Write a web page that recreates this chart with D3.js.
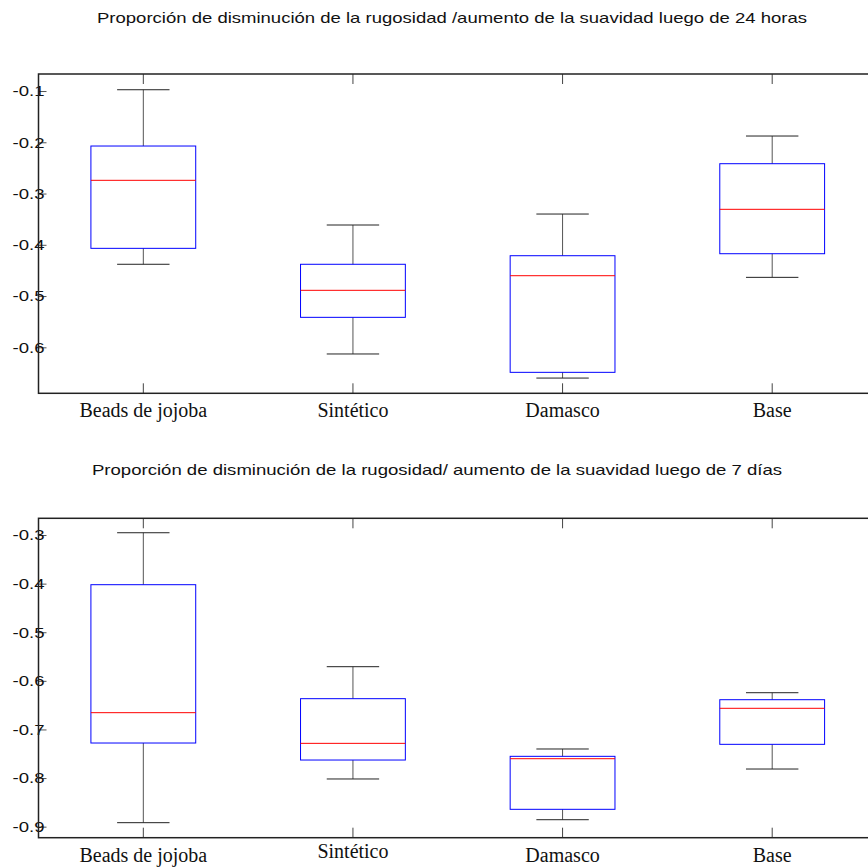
<html lang="es">
  <head>
    <meta charset="utf-8">
    <title>Boxplots rugosidad</title>
    <script src="https://d3js.org/d3.v7.min.js"></script>
    <style>
      body { margin: 0; background: #fff; }
    </style>
  </head>
  <body>
    <script type="text/javascript">
      var w = 868;
      var h = 867;
      var categories = ["Beads de jojoba", "Sintético", "Damasco", "Base"];

      // panel 1: 24 horas
      var title1 = "Proporción de disminución de la rugosidad /aumento de la suavidad  luego de 24 horas";
      var whiskerLow1 = [-0.438, -0.613, -0.660, -0.4635];
      var q1_1 = [-0.4069, -0.5415, -0.6488, -0.4174];
      var median1 = [-0.2742, -0.4888, -0.4603, -0.3308];
      var q3_1 = [-0.2073, -0.438, -0.4213, -0.2418];
      var whiskerHigh1 = [-0.0975, -0.3614, -0.340, -0.1878];
      var ticks1 = [-0.6, -0.5, -0.4, -0.3, -0.2, -0.1];

      // panel 2: 7 dias
      var title2 = "Proporción de disminución de la rugosidad/ aumento de la suavidad luego de 7 días";
      var whiskerLow2 = [-0.8918, -0.8019, -0.8857, -0.7814];
      var q1_2 = [-0.7279, -0.7629, -0.8643, -0.7306];
      var median2 = [-0.6655, -0.7286, -0.7602, -0.6565];
      var q3_2 = [-0.4022, -0.6367, -0.7553, -0.6388];
      var whiskerHigh2 = [-0.2953, -0.5709, -0.7402, -0.6244];
      var ticks2 = [-0.9, -0.8, -0.7, -0.6, -0.5, -0.4, -0.3];

      var svg = d3.select("body")
                  .append("svg")
                  .attr("width", w)
                  .attr("height", h);

      var xScale = d3.scaleBand()
                     .domain(categories)
                     .range([38.5, 877])
                     .padding(0);

      function drawPanel(opts) {
        var top = opts.top, bottom = opts.bottom;
        var yScale = d3.scaleLinear()
                       .domain(opts.domain)
                       .range([bottom, top]);
        var g = svg.append("g");
        var bw = xScale.bandwidth();
        var cx = function (c) { return xScale(c) + bw / 2; };

        // title (text in the original is stretched sideways)
        g.append("text")
         .attr("x", opts.titleX)
         .attr("y", opts.titleY)
         .attr("textLength", opts.titleLen)
         .attr("lengthAdjust", "spacingAndGlyphs")
         .style("font-family", "Liberation Sans, Arial, sans-serif")
         .style("font-size", "15px")
         .style("fill", "#111")
         .text(opts.title);

        var data = categories.map(function (c, i) {
          return {c: c, lo: opts.lo[i], q1: opts.q1[i], med: opts.med[i], q3: opts.q3[i], hi: opts.hi[i]};
        });

        // whiskers
        g.selectAll(".whisk").data(data).enter().append("line")
         .attr("x1", function (d) { return cx(d.c); })
         .attr("x2", function (d) { return cx(d.c); })
         .attr("y1", function (d) { return yScale(d.hi); })
         .attr("y2", function (d) { return yScale(d.q3); })
         .style("stroke", "#555").attr("stroke-width", 1);
        g.selectAll(".whisk2").data(data).enter().append("line")
         .attr("x1", function (d) { return cx(d.c); })
         .attr("x2", function (d) { return cx(d.c); })
         .attr("y1", function (d) { return yScale(d.q1); })
         .attr("y2", function (d) { return yScale(d.lo); })
         .style("stroke", "#555").attr("stroke-width", 1);
        // caps
        ["hi", "lo"].forEach(function (k) {
          g.selectAll(".cap" + k).data(data).enter().append("line")
           .attr("x1", function (d) { return cx(d.c) - bw / 8; })
           .attr("x2", function (d) { return cx(d.c) + bw / 8; })
           .attr("y1", function (d) { return yScale(d[k]); })
           .attr("y2", function (d) { return yScale(d[k]); })
           .style("stroke", "#222").attr("stroke-width", 1);
        });
        // boxes
        g.selectAll("rect.box").data(data).enter().append("rect")
         .attr("x", function (d) { return cx(d.c) - bw / 4; })
         .attr("width", bw / 2)
         .attr("y", function (d) { return yScale(d.q3); })
         .attr("height", function (d) { return yScale(d.q1) - yScale(d.q3); })
         .style("fill", "none")
         .style("stroke", "#0000ff")
         .attr("stroke-width", 1);
        // medians
        g.selectAll(".med").data(data).enter().append("line")
         .attr("x1", function (d) { return cx(d.c) - bw / 4; })
         .attr("x2", function (d) { return cx(d.c) + bw / 4; })
         .attr("y1", function (d) { return yScale(d.med); })
         .attr("y2", function (d) { return yScale(d.med); })
         .style("stroke", "#ff0000").attr("stroke-width", 1);

        // axes
        var yAxis = d3.axisLeft(yScale)
                      .tickValues(opts.ticks)
                      .tickFormat(function (d) { return d.toFixed(1); })
                      .tickSizeInner(-8)
                      .tickSizeOuter(0)
                      .tickPadding(-6);
        var ya = g.append("g")
                  .attr("transform", "translate(38.5,0)")
                  .call(yAxis);
        ya.select(".domain").remove();
        ya.selectAll("line").style("stroke", "#555");
        ya.selectAll("text")
          .attr("textLength", 32)
          .attr("lengthAdjust", "spacingAndGlyphs")
          .style("font-family", "Liberation Sans, Arial, sans-serif")
          .style("font-size", "15px")
          .style("fill", "#111");

        var xAxis = d3.axisBottom(xScale)
                      .tickSizeInner(-10)
                      .tickSizeOuter(0)
                      .tickPadding(10);
        var xa = g.append("g")
                  .attr("transform", "translate(0," + bottom + ")")
                  .call(xAxis);
        xa.select(".domain").remove();
        xa.selectAll("line").style("stroke", "#444");
        xa.selectAll("text")
          .attr("y", function (d) { return 10 + (opts.labelShift[d] || 0); })
          .style("font-family", "Liberation Serif, Times New Roman, serif")
          .style("font-size", "20px")
          .style("fill", "#111");

        var xTop = d3.axisTop(xScale)
                     .tickSizeInner(-10)
                     .tickSizeOuter(0)
                     .tickFormat("");
        var xt = g.append("g")
                  .attr("transform", "translate(0," + top + ")")
                  .call(xTop);
        xt.select(".domain").remove();
        xt.selectAll("line").style("stroke", "#444");

        // frame
        g.append("rect")
         .attr("x", 38.5)
         .attr("y", top)
         .attr("width", 877 - 38.5)
         .attr("height", bottom - top)
         .style("fill", "none")
         .style("stroke", "#222")
         .attr("stroke-width", 1.5);
      }

      drawPanel({top: 74, bottom: 393.3, domain: [-0.6897, -0.0668],
                 lo: whiskerLow1, q1: q1_1, med: median1, q3: q3_1, hi: whiskerHigh1,
                 ticks: ticks1, title: title1, titleX: 97, titleY: 23, titleLen: 710,
                 labelShift: {}});
      drawPanel({top: 518.3, bottom: 837.7, domain: [-0.9227, -0.2656],
                 lo: whiskerLow2, q1: q1_2, med: median2, q3: q3_2, hi: whiskerHigh2,
                 ticks: ticks2, title: title2, titleX: 92, titleY: 475, titleLen: 690,
                 labelShift: {"Sintético": -4}});
    </script>
  </body>
</html>
